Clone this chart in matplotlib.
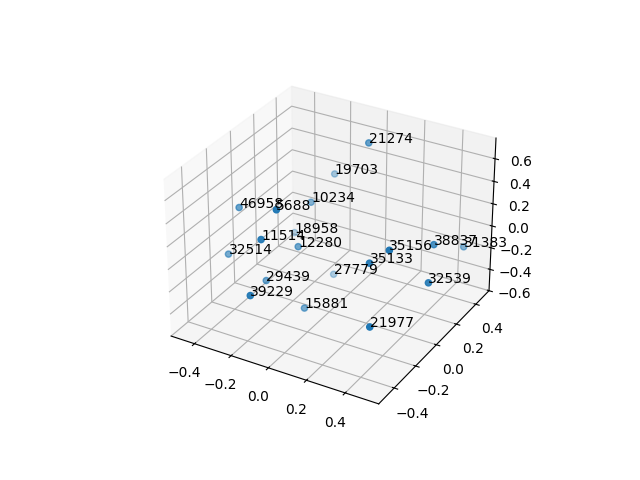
import matplotlib
matplotlib.use('Agg')
import matplotlib.pyplot as plt

labels = ['21274', '19703', '10234', '46958', '5688', '18958', '11514', '12280', '32514', '29439',
          '39229', '15881', '21977', '27779', '35133', '35156', '38837', '31383', '32539']
xs = [0.03, -0.20, -0.20, -0.42, -0.14, -0.33, -0.18, -0.15, -0.44, -0.24,
      -0.16, -0.07, 0.37, -0.10, 0.27, 0.36, 0.45, 0.48, 0.51]
ys = [0.31, 0.39, 0.17, -0.11, -0.23, 0.23, -0.30, -0.03, -0.18, -0.17,
      -0.43, -0.11, -0.27, 0.21, -0.10, -0.08, 0.18, 0.43, 0.02]
zs = [0.68, 0.24, 0.16, 0.24, 0.45, -0.23, 0.23, -0.05, -0.13, -0.28,
      -0.14, -0.50, -0.29, -0.49, 0.07, 0.21, 0.08, -0.14, -0.09]

fig = plt.figure()
ax = fig.add_subplot(projection='3d')
ax.scatter(xs, ys, zs)
for x, y, z, lab in zip(xs, ys, zs, labels):
    ax.text(x, y, z, lab)
ax.set_xlim(-0.53, 0.57)
ax.set_ylim(-0.54, 0.54)
ax.set_zlim(-0.6, 0.78)
fig.savefig('out.png', dpi=100)
